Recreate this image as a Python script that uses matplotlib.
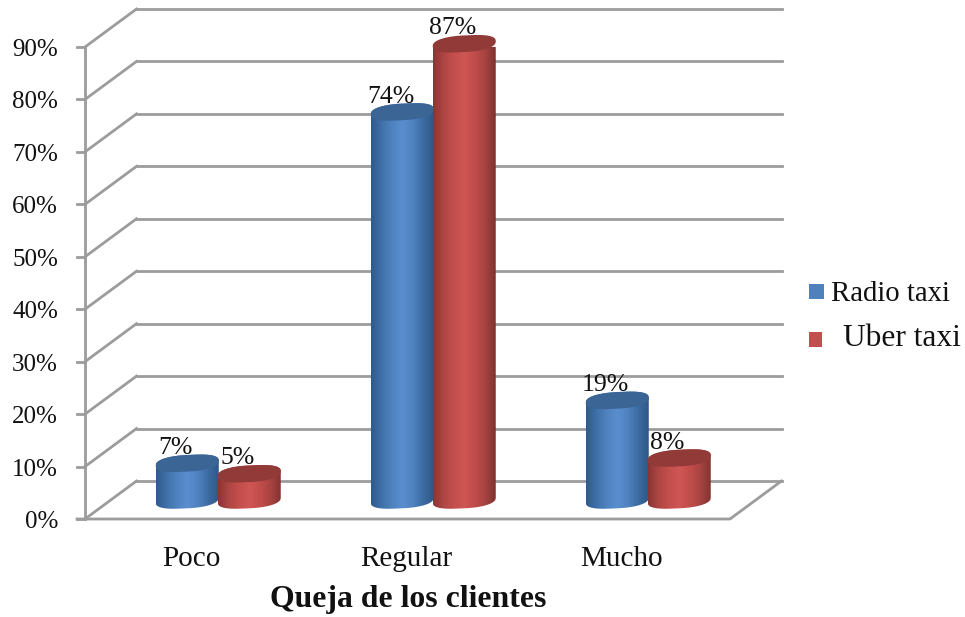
import numpy as np
import matplotlib
matplotlib.use("Agg")
from matplotlib import pyplot as plt
from matplotlib.colors import LinearSegmentedColormap
from matplotlib.patches import PathPatch, Rectangle
from matplotlib.path import Path

categories = ["Poco", "Regular", "Mucho"]
radio_taxi = [7, 74, 19]
uber_taxi = [5, 87, 8]
y_ticks = [0, 10, 20, 30, 40, 50, 60, 70, 80, 90]
x_title = "Queja de los clientes"

W, H = 965, 617
plt.rcParams['font.family'] = ['Liberation Serif', 'DejaVu Serif']

fig = plt.figure(figsize=(W / 100, H / 100), dpi=100)
# front plane of the 3d box, in pixels: x 85..730, y 519..47
ax = fig.add_axes([85 / W, 1 - 519 / H, 645 / W, 472 / H])
ax.set_xlim(0, 3)
ax.set_ylim(0, 90)
ax.axis("off")

px_x = 3 / 645   # data units per pixel
px_y = 90 / 472
depth_x = 51.5 * px_x
depth_y = 38 * px_y
half_w = 31.5 * px_x
ell_h = 8.3 * px_y
tilt = 2.5 * px_y

grid = "#9c9c9c"
lw = 2.0

# walls and gridlines
for t in y_ticks:
    ax.plot([0, depth_x], [t, t + depth_y], color=grid, lw=lw, clip_on=False, zorder=1)
    ax.plot([depth_x, 3 + depth_x], [t + depth_y] * 2, color=grid, lw=lw, clip_on=False, zorder=1)
    ax.plot([-8 * px_x, 0], [t, t], color=grid, lw=lw, clip_on=False, zorder=1)
ax.plot([0, 0], [0, 90], color=grid, lw=lw, clip_on=False, zorder=1)
ax.plot([-8 * px_x, 3, 3 + depth_x], [0, 0, depth_y], color=grid, lw=lw, clip_on=False, zorder=1)

blue_map = LinearSegmentedColormap.from_list("b", ["#2f5a8c", "#3f70a8", "#4f82bf", "#5a8ecf", "#4f82bf", "#3c6ba2", "#2e5785"])
red_map = LinearSegmentedColormap.from_list("r", ["#8a3533", "#ae4644", "#c44f4d", "#cf5654", "#c04d4b", "#a54341", "#7f3230"])
tops = {"b": "#3a6595", "r": "#913a38"}
grad = np.linspace(0, 1, 256).reshape(1, -1)


def ellipse(cx, cy, t):
    # slightly squared ellipse, the reference shapes have full shoulders
    c = np.sign(np.cos(t)) * np.abs(np.cos(t)) ** 0.8
    s = np.sign(np.sin(t)) * np.abs(np.sin(t)) ** 0.8
    return cx + half_w * c, cy + ell_h * s + tilt * np.cos(t)


def cylinder(cx, value, cmap, top_col, z):
    base = depth_y / 2
    top = base + value
    # body outline: lower half of the base ellipse, upper half of the top one
    t1 = np.linspace(np.pi, 2 * np.pi, 60)
    t2 = np.linspace(0, np.pi, 60)
    bx, by = ellipse(cx, base, t1)
    tx, ty = ellipse(cx, top, t2)
    verts = np.column_stack([np.r_[bx, tx], np.r_[by, ty]])
    body = PathPatch(Path(verts), transform=ax.transData, fc="none", ec="none")
    ax.add_patch(body)
    im = ax.imshow(grad, cmap=cmap, extent=[cx - half_w, cx + half_w, base - 3 * ell_h, top + 3 * ell_h],
                   aspect="auto", zorder=z, interpolation="bilinear")
    im.set_clip_path(body)
    t = np.linspace(0, 2 * np.pi, 120)
    ex, ey = ellipse(cx, top, t)
    ax.fill(ex, ey, color=top_col, lw=0, zorder=z + 0.1, clip_on=False)


for i, cat in enumerate(categories):
    centre = i + 0.5 + depth_x / 2
    cb = centre - 31 * px_x
    cr = centre + 31 * px_x
    cylinder(cb, radio_taxi[i], blue_map, tops["b"], 3 + i)
    cylinder(cr, uber_taxi[i], red_map, tops["r"], 3.5 + i)
    for c, v in ((cb, radio_taxi[i]), (cr, uber_taxi[i])):
        ax.annotate("%d%%" % v, (c, depth_y / 2 + v), xytext=(-8.5, 11), textcoords="offset points",
                    ha="center", va="center", fontsize=18.5, color="#111111", zorder=10, annotation_clip=False)
    ax.text(i + 0.5 - 1 * px_x, -40 * px_y, cat, ha="center", va="center", fontsize=21, color="#111111")

ax.set_xlim(0, 3)
ax.set_ylim(0, 90)

for t in y_ticks:
    ax.text(-27 * px_x, t - 3 * px_y, "%d%%" % t, ha="right", va="center", fontsize=18, color="#111111")

fig.text(408 / W, 1 - 600 / H, x_title, ha="center", va="center", fontsize=22.9, fontweight="bold", color="#111111")

# legend
fig.add_artist(Rectangle((809 / W, 1 - 299 / H), 15 / W, 15 / H, transform=fig.transFigure, fc="#4f81bd", ec="none"))
fig.add_artist(Rectangle((809 / W, 1 - 347 / H), 13 / W, 15 / H, transform=fig.transFigure, fc="#c0504d", ec="none"))
fig.text(831 / W, 1 - 294 / H, "Radio taxi", ha="left", va="center", fontsize=20.7, color="#111111")
fig.text(843 / W, 1 - 339 / H, "Uber taxi", ha="left", va="center", fontsize=22.7, color="#111111")

fig.savefig("out.png", dpi=100)
